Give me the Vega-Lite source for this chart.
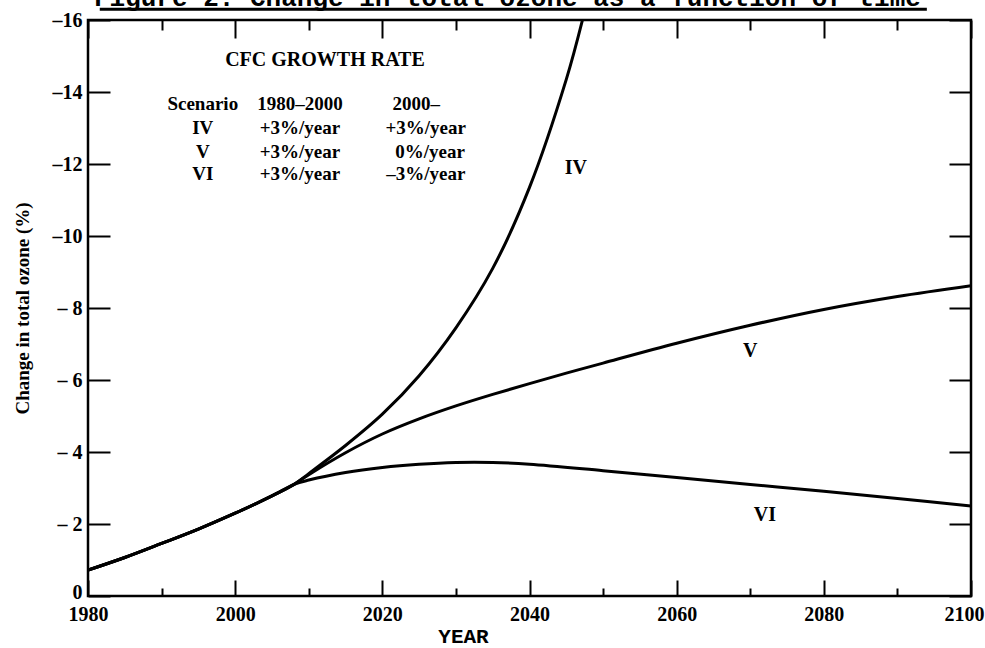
{
  "$schema": "https://vega.github.io/schema/vega-lite/v6.json",
  "width": 883,
  "height": 576,
  "autosize": "none",
  "padding": {"left": 88, "top": 20, "right": 14, "bottom": 52},
  "background": "white",
  "view": {"stroke": "black", "strokeWidth": 2.5},
  "config": {
    "font": "Liberation Serif",
    "axis": {
      "domain": false,
      "grid": false,
      "tickColor": "black",
      "tickWidth": 2,
      "labelFont": "Liberation Serif",
      "labelFontWeight": "bold",
      "labelFontSize": 20,
      "labelColor": "black",
      "titleColor": "black"
    }
  },
  "datasets": {
    "curves": [
      {"scenario": "IV", "year": 1980, "value": 0.72},
      {"scenario": "IV", "year": 1985, "value": 1.07},
      {"scenario": "IV", "year": 1990, "value": 1.46},
      {"scenario": "IV", "year": 1995, "value": 1.86},
      {"scenario": "IV", "year": 2000, "value": 2.3},
      {"scenario": "IV", "year": 2005, "value": 2.78},
      {"scenario": "IV", "year": 2008, "value": 3.1},
      {"scenario": "IV", "year": 2010, "value": 3.4},
      {"scenario": "IV", "year": 2015, "value": 4.18},
      {"scenario": "IV", "year": 2020, "value": 5.05},
      {"scenario": "IV", "year": 2025, "value": 6.12},
      {"scenario": "IV", "year": 2030, "value": 7.45},
      {"scenario": "IV", "year": 2035, "value": 9.1},
      {"scenario": "IV", "year": 2040, "value": 11.35},
      {"scenario": "IV", "year": 2045, "value": 14.35},
      {"scenario": "IV", "year": 2047.2, "value": 16.0},
      {"scenario": "V", "year": 1980, "value": 0.72},
      {"scenario": "V", "year": 1985, "value": 1.07},
      {"scenario": "V", "year": 1990, "value": 1.46},
      {"scenario": "V", "year": 1995, "value": 1.86},
      {"scenario": "V", "year": 2000, "value": 2.3},
      {"scenario": "V", "year": 2005, "value": 2.78},
      {"scenario": "V", "year": 2008, "value": 3.1},
      {"scenario": "V", "year": 2010, "value": 3.37},
      {"scenario": "V", "year": 2015, "value": 3.98},
      {"scenario": "V", "year": 2020, "value": 4.5},
      {"scenario": "V", "year": 2025, "value": 4.92},
      {"scenario": "V", "year": 2030, "value": 5.28},
      {"scenario": "V", "year": 2035, "value": 5.6},
      {"scenario": "V", "year": 2040, "value": 5.9},
      {"scenario": "V", "year": 2045, "value": 6.19},
      {"scenario": "V", "year": 2050, "value": 6.47},
      {"scenario": "V", "year": 2060, "value": 7.02},
      {"scenario": "V", "year": 2070, "value": 7.52},
      {"scenario": "V", "year": 2080, "value": 7.96},
      {"scenario": "V", "year": 2090, "value": 8.32},
      {"scenario": "V", "year": 2100, "value": 8.62},
      {"scenario": "VI", "year": 1980, "value": 0.72},
      {"scenario": "VI", "year": 1985, "value": 1.07},
      {"scenario": "VI", "year": 1990, "value": 1.46},
      {"scenario": "VI", "year": 1995, "value": 1.86},
      {"scenario": "VI", "year": 2000, "value": 2.3},
      {"scenario": "VI", "year": 2005, "value": 2.78},
      {"scenario": "VI", "year": 2008, "value": 3.1},
      {"scenario": "VI", "year": 2010, "value": 3.22},
      {"scenario": "VI", "year": 2015, "value": 3.43},
      {"scenario": "VI", "year": 2020, "value": 3.57},
      {"scenario": "VI", "year": 2025, "value": 3.66},
      {"scenario": "VI", "year": 2030, "value": 3.71},
      {"scenario": "VI", "year": 2035, "value": 3.71},
      {"scenario": "VI", "year": 2040, "value": 3.66},
      {"scenario": "VI", "year": 2050, "value": 3.48},
      {"scenario": "VI", "year": 2060, "value": 3.29},
      {"scenario": "VI", "year": 2070, "value": 3.1},
      {"scenario": "VI", "year": 2080, "value": 2.91},
      {"scenario": "VI", "year": 2090, "value": 2.71},
      {"scenario": "VI", "year": 2100, "value": 2.5}
    ],
    "curveLabels": [
      {"label": "IV", "year": 2046.3, "value": 11.9},
      {"label": "V", "year": 2070, "value": 6.8},
      {"label": "VI", "year": 2072, "value": 2.24}
    ],
    "table": [
      {"label": "Scenario", "year": 1995.6, "value": 13.67},
      {"label": "1980–2000", "year": 2008.8, "value": 13.67},
      {"label": "2000–", "year": 2024.6, "value": 13.67},
      {"label": "IV", "year": 1995.6, "value": 13.0},
      {"label": "+3%/year", "year": 2008.8, "value": 13.0},
      {"label": "+3%/year", "year": 2025.9, "value": 13.0},
      {"label": "V", "year": 1995.6, "value": 12.32},
      {"label": "+3%/year", "year": 2008.8, "value": 12.32},
      {"label": "0%/year", "year": 2026.5, "value": 12.32},
      {"label": "VI", "year": 1995.6, "value": 11.71},
      {"label": "+3%/year", "year": 2008.8, "value": 11.71},
      {"label": "–3%/year", "year": 2025.9, "value": 11.71}
    ],
    "heading": [
      {"label": "CFC GROWTH RATE", "year": 2012.2, "value": 14.9}
    ],
    "figureTitle": [
      {"label": "Figure 2. Change in total ozone as a function of time", "year": 2037.0, "value": 16.4}
    ],
    "underline": [
      {"year": 1981.6, "year2": 2094, "value": 16.3}
    ]
  },
  "layer": [
    {
      "data": {"name": "curves"},
      "mark": {"type": "line", "interpolate": "catmull-rom", "stroke": "black", "strokeWidth": 3, "clip": true},
      "encoding": {
        "x": {
          "field": "year", "type": "quantitative",
          "scale": {"domain": [1980, 2100], "nice": false, "zero": false},
          "axis": {
            "orient": "bottom",
            "values": [1980, 2000, 2020, 2040, 2060, 2080, 2100],
            "format": "d",
            "tickSize": -16,
            "labelPadding": 24,
            "labelFlush": false,
            "labelAlign": {"condition": {"test": "datum.value == 2100", "value": "right"}, "value": "center"},
            "labelOffset": {"condition": {"test": "datum.value == 2100", "value": 13}, "value": 0},
            "title": "YEAR",
            "titleFont": "Liberation Mono",
            "titleFontWeight": "bold",
            "titleFontSize": 21,
            "titleX": 375,
            "titlePadding": 1
          }
        },
        "y": {
          "field": "value", "type": "quantitative",
          "scale": {"domain": [0, 16], "nice": false, "zero": false},
          "axis": {
            "orient": "left",
            "values": [0, 2, 4, 6, 8, 10, 12, 14, 16],
            "tickSize": -22,
            "labelPadding": 28,
            "labelFlush": false,
            "labelOffset": {"condition": {"test": "datum.value == 0", "value": -4}, "value": 0},
            "labelExpr": "datum.value == 0 ? '0' : (datum.value >= 10 ? '–' + datum.value : '– ' + datum.value)",
            "title": "Change in total ozone (%)",
            "titleFont": "Liberation Serif",
            "titleFontWeight": "bold",
            "titleFontSize": 19,
            "titlePadding": 20
          }
        },
        "detail": {"field": "scenario", "type": "nominal"}
      }
    },
    {
      "data": {"name": "curveLabels"},
      "mark": {"type": "text", "font": "Liberation Serif", "fontWeight": "bold", "fontSize": 20, "color": "black", "align": "center", "baseline": "middle"},
      "encoding": {
        "x": {
          "field": "year", "type": "quantitative",
          "scale": {"domain": [1980, 2100], "nice": false, "zero": false},
          "axis": {"orient": "top", "values": [1980, 2000, 2020, 2040, 2060, 2080, 2100], "tickSize": -18, "labels": false, "title": null}
        },
        "y": {
          "field": "value", "type": "quantitative",
          "scale": {"domain": [0, 16], "nice": false, "zero": false},
          "axis": {"orient": "right", "values": [0, 2, 4, 6, 8, 10, 12, 14, 16], "tickSize": -22, "labels": false, "title": null}
        },
        "text": {"field": "label", "type": "nominal"}
      }
    },
    {
      "data": {"name": "table"},
      "mark": {"type": "text", "font": "Liberation Serif", "fontWeight": "bold", "fontSize": 19, "color": "black", "align": "center", "baseline": "middle"},
      "encoding": {
        "x": {
          "field": "year", "type": "quantitative",
          "scale": {"domain": [1980, 2100], "nice": false, "zero": false},
          "axis": {"orient": "bottom", "values": [1990, 2010, 2030, 2050, 2070, 2090], "tickSize": -8, "labels": false, "title": null}
        },
        "y": {
          "field": "value", "type": "quantitative",
          "scale": {"domain": [0, 16], "nice": false, "zero": false},
          "axis": null
        },
        "text": {"field": "label", "type": "nominal"}
      }
    },
    {
      "data": {"name": "heading"},
      "mark": {"type": "text", "font": "Liberation Serif", "fontWeight": "bold", "fontSize": 20, "color": "black", "align": "center", "baseline": "middle"},
      "encoding": {
        "x": {
          "field": "year", "type": "quantitative",
          "scale": {"domain": [1980, 2100], "nice": false, "zero": false},
          "axis": {"orient": "top", "values": [1990, 2010, 2030, 2050, 2070, 2090], "tickSize": -10, "labels": false, "title": null}
        },
        "y": {
          "field": "value", "type": "quantitative",
          "scale": {"domain": [0, 16], "nice": false, "zero": false},
          "axis": null
        },
        "text": {"field": "label", "type": "nominal"}
      }
    },
    {
      "data": {"name": "figureTitle"},
      "mark": {"type": "text", "font": "Liberation Mono", "fontWeight": "bold", "fontSize": 26, "color": "black", "align": "center", "baseline": "alphabetic", "clip": false},
      "encoding": {
        "x": {"field": "year", "type": "quantitative", "scale": {"domain": [1980, 2100], "nice": false, "zero": false}, "axis": null},
        "y": {"field": "value", "type": "quantitative", "scale": {"domain": [0, 16], "nice": false, "zero": false}, "axis": null},
        "text": {"field": "label", "type": "nominal"}
      }
    },
    {
      "data": {"name": "underline"},
      "mark": {"type": "rule", "stroke": "black", "strokeWidth": 3, "clip": false},
      "encoding": {
        "x": {"field": "year", "type": "quantitative", "scale": {"domain": [1980, 2100], "nice": false, "zero": false}, "axis": null},
        "x2": {"field": "year2"},
        "y": {"field": "value", "type": "quantitative", "scale": {"domain": [0, 16], "nice": false, "zero": false}, "axis": null}
      }
    }
  ],
  "resolve": {"axis": {"x": "independent", "y": "independent"}}
}
